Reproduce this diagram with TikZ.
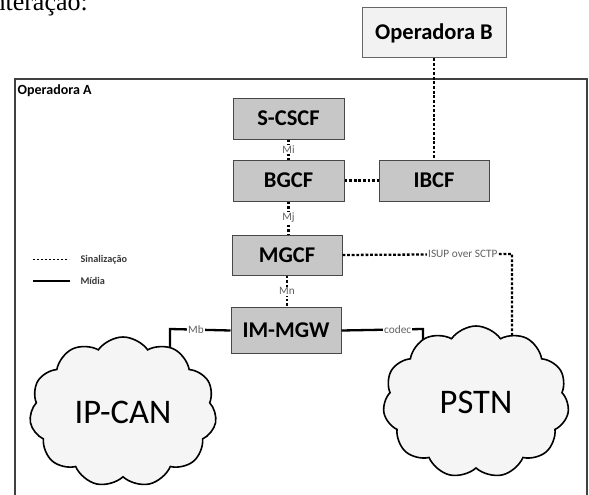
\documentclass[tikz,border=0pt]{standalone}
\usepackage{fontspec}
\setmainfont{Carlito}
\newfontfamily\serifpage{Liberation Serif}
\usetikzlibrary{shapes.symbols}

\begin{document}
\begin{tikzpicture}[x=1pt,y=-1pt,
  box/.style={draw=black!72, line width=1pt, fill=black!22, inner sep=0pt,
    font=\bfseries\fontsize{22.5}{24}\selectfont},
  sig/.style={line width=2.3pt, dash pattern=on 2.8pt off 1.8pt},
  media/.style={line width=2.3pt},
  iflabel/.style={fill=white, inner sep=0.8pt, text=black!62,
    font=\fontsize{11.3}{12}\selectfont},
  net/.style={cloud, cloud puffs=11, cloud puff arc=110, aspect=1.25,
    draw=black, line width=1.6pt, fill=black!4, inner sep=0pt,
    font=\fontsize{34.5}{36}\selectfont},
  legendtext/.style={font=\bfseries\fontsize{10.2}{11}\selectfont, text=black!78, anchor=west}
]
\clip (0,0) rectangle (589,495);
\fill[white] (0,0) rectangle (589,495);

% end of the running text above the figure
\node[anchor=base east, inner sep=0pt, font=\serifpage\fontsize{26}{28}\selectfont] (pagetext) at (88,10.8) {interação:};

% domain of operator A
\draw[line width=1.3pt, draw=black!75] (15,79) rectangle (587,540);
\node[anchor=base west, inner sep=0pt, font=\bfseries\fontsize{14}{15}\selectfont] (opA) at (17.5,94.5) {Operadora A};

% functional entities
\node[box, fill=black!5, draw=black!60, minimum width=144pt, minimum height=50pt] (opB) at (434,33) {Operadora B};
\node[box, minimum width=111pt, minimum height=41pt] (scscf) at (288.5,118.5) {S-CSCF};
\node[box, minimum width=111pt, minimum height=41pt] (bgcf) at (288.5,180.5) {BGCF};
\node[box, minimum width=110pt, minimum height=41pt] (ibcf) at (434,180.5) {IBCF};
\node[box, minimum width=110pt, minimum height=40pt] (mgcf) at (287,255) {MGCF};
\node[box, minimum width=110pt, minimum height=46pt] (immgw) at (286,330.5) {IM-MGW};

% corner points of the routed links
\coordinate (isupTurn) at (512,254);
\coordinate (isupEnd) at (512,345);
\coordinate (codecTurn) at (423,329);
\coordinate (codecEnd) at (423,380);
\coordinate (mbTurn) at (170,329);
\coordinate (mbEnd) at (170,360);

% signalling links
\draw[sig] (opB.south) -- (ibcf.north);
\draw[sig] (bgcf.east) -- (ibcf.west);
\draw[sig] (scscf.south) -- node[iflabel] (mi) {Mi} (bgcf.north);
\draw[sig] (bgcf.south) -- node[iflabel] (mj) {Mj} (bgcf.south |- mgcf.north);
\draw[sig] (mgcf.south) -- node[iflabel] (mn) {Mn} (mgcf.south |- immgw.north);
\draw[sig] (mgcf.east) -- node[iflabel, pos=0.71] (isup) {ISUP over SCTP} (isupTurn) -- (isupEnd);

% media links
\draw[media] (immgw.east) -- node[iflabel, pos=0.69] (codec) {codec} (codecTurn) -- (codecEnd);
\draw[media] (immgw.west) -- node[iflabel, pos=0.57] (mb) {Mb} (mbTurn) -- (mbEnd);

% networks
\node[net, minimum width=187pt, minimum height=150pt] (ipcan) at (123,412) {IP-CAN};
\node[net, minimum width=186pt, minimum height=152pt] (pstn) at (476,402) {PSTN};

% legend
\coordinate (sigA) at (33,259.5);
\coordinate (sigB) at (69,259.5);
\coordinate (medA) at (33,281);
\coordinate (medB) at (70,281);
\draw[sig, line width=1.9pt, dash pattern=on 2.4pt off 1.6pt] (sigA) -- (sigB);
\draw[media, line width=1.9pt] (medA) -- (medB);
\node[legendtext] (sigtext) at (77,259.5) {Sinalização};
\node[legendtext] (medtext) at (77,281) {Mídia};
\end{tikzpicture}
\end{document}
